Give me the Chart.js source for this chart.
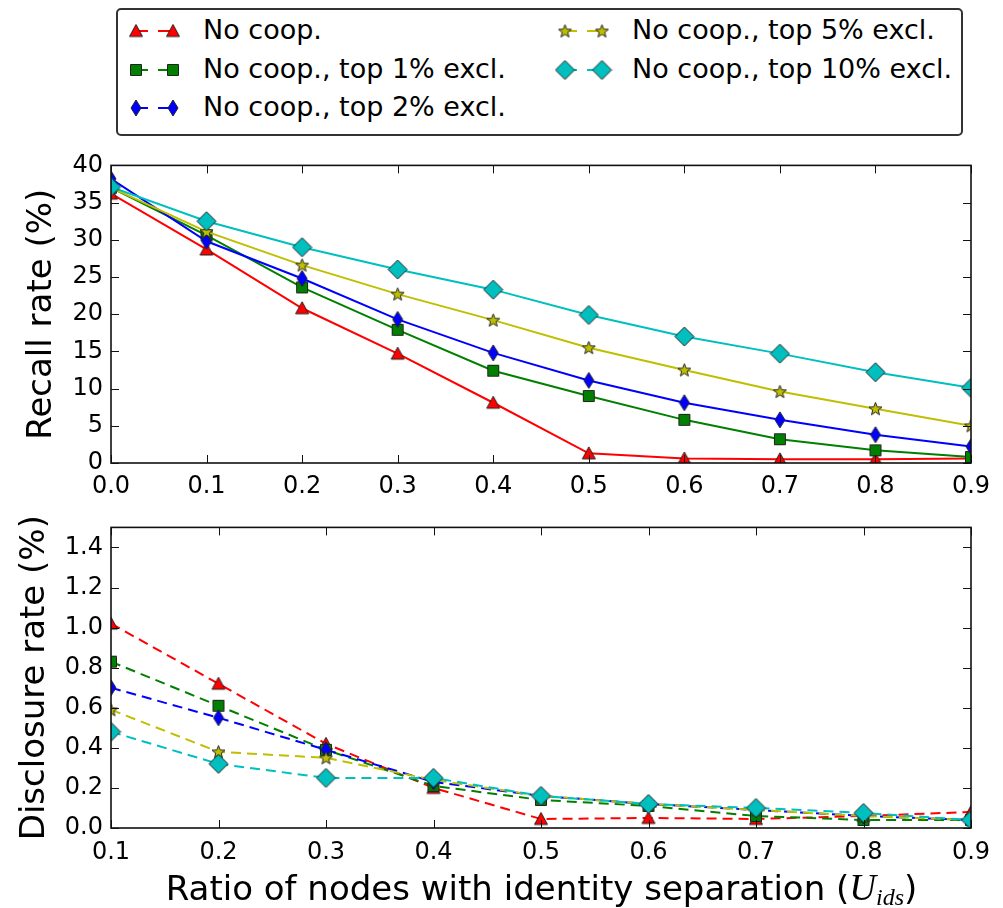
<!DOCTYPE html>
<html>
<head>
<meta charset="utf-8">
<script src="https://cdn.jsdelivr.net/npm/chart.js@4.4.1/dist/chart.umd.min.js"></script>
<style>
    body { margin: 0; background: #fff; font-family: 'DejaVu Sans', sans-serif; color: #000; }
    #wrap { position: relative; width: 1003px; height: 908px; overflow: hidden; }
    #legend { position: absolute; left: 116px; top: 8px; width: 843px; height: 124px;
              border: 2px solid #333; border-radius: 5px; }
    #legend canvas, #legend span { position: absolute; }
    #legend span { font-size: 27px; line-height: 30px; white-space: nowrap; }
    #recall { position: absolute; left: 0; top: 143px; }
    #disclosure { position: absolute; left: 0; top: 505px; }
    #xtitle { position: absolute; left: 0; width: 1083px; top: 871px; text-align: center;
              font-size: 34px; line-height: 34px; white-space: nowrap; }
    #xtitle i { font-family: 'Liberation Serif', serif; font-size: 37px; }
    #xtitle sub { font-size: 24px; vertical-align: baseline; position: relative; top: 5px; }
</style>
</head>
<body>
<div id="wrap">
    <canvas id="recall" width="1003" height="367"></canvas>
    <canvas id="disclosure" width="1003" height="370"></canvas>
    <div id="legend"></div>
    <div id="xtitle">Ratio of nodes with identity separation (<i>U<sub>ids</sub></i>)</div>
</div>
<script>
const seriesNames = ['No coop.', 'No coop., top 1% excl.', 'No coop., top 2% excl.',
                     'No coop., top 5% excl.', 'No coop., top 10% excl.'];
const seriesColors = ['#ff0000', '#008000', '#0000ff', '#bfbf00', '#00bfbf'];
const seriesMarkers = ['triangle', 'square', 'thinDiamond', 'star', 'diamond'];

// top panel: recall rate (%)
const recallX = [0.0, 0.1, 0.2, 0.3, 0.4, 0.5, 0.6, 0.7, 0.8, 0.9];
const recallNoCoop = [36.2, 28.7, 20.8, 14.7, 8.1, 1.3, 0.6, 0.5, 0.5, 0.6];
const recallTop1 = [37.0, 30.6, 23.6, 17.9, 12.4, 9.0, 5.8, 3.2, 1.7, 0.8];
const recallTop2 = [38.2, 29.8, 24.8, 19.3, 14.8, 11.1, 8.1, 5.8, 3.8, 2.2];
const recallTop5 = [37.0, 31.1, 26.6, 22.7, 19.2, 15.5, 12.5, 9.6, 7.3, 5.0];
const recallTop10 = [37.1, 32.5, 29.0, 26.0, 23.3, 19.9, 17.0, 14.7, 12.2, 10.1];
const recallXTicks = [0.0, 0.1, 0.2, 0.3, 0.4, 0.5, 0.6, 0.7, 0.8, 0.9];
const recallYTicks = [0, 5, 10, 15, 20, 25, 30, 35, 40];

// bottom panel: disclosure rate (%)
const disclosureX = [0.1, 0.2, 0.3, 0.4, 0.5, 0.6, 0.7, 0.8, 0.9];
const disclosureNoCoop = [1.02, 0.72, 0.42, 0.20, 0.045, 0.05, 0.045, 0.06, 0.08];
const disclosureTop1 = [0.83, 0.61, 0.39, 0.21, 0.14, 0.11, 0.06, 0.04, 0.04];
const disclosureTop2 = [0.70, 0.55, 0.39, 0.23, 0.16, 0.12, 0.09, 0.06, 0.04];
const disclosureTop5 = [0.59, 0.38, 0.35, 0.24, 0.16, 0.12, 0.09, 0.06, 0.04];
const disclosureTop10 = [0.48, 0.32, 0.25, 0.25, 0.16, 0.12, 0.10, 0.075, 0.04];
const disclosureXTicks = [0.1, 0.2, 0.3, 0.4, 0.5, 0.6, 0.7, 0.8, 0.9];
const disclosureYTicks = [0.0, 0.2, 0.4, 0.6, 0.8, 1.0, 1.2, 1.4];

const FONT = "'DejaVu Sans', sans-serif";

// marker images, matplotlib look (filled, dark edge)
function makeMarker(shape, fill) {
    const sizes = { triangle: [16, 15], square: [14, 14], thinDiamond: [12, 18], star: [15, 15], diamond: [21, 21] };
    const [w, h] = sizes[shape];
    const c = document.createElement('canvas');
    c.width = w;
    c.height = h;
    const g = c.getContext('2d');
    g.fillStyle = fill;
    g.strokeStyle = '#222';
    g.lineWidth = 1;
    g.beginPath();
    if (shape === 'triangle') {
        g.moveTo(w / 2, 1); g.lineTo(w - 1.5, h - 2); g.lineTo(1.5, h - 2);
    } else if (shape === 'square') {
        g.rect(1.5, 1.5, w - 3, h - 3);
    } else if (shape === 'star') {
        for (let i = 0; i < 10; i++) {
            const r = i % 2 ? 2.9 : 6.8;
            const a = -Math.PI / 2 + i * Math.PI / 5;
            g.lineTo(w / 2 + r * Math.cos(a), h / 2 + 0.5 + r * Math.sin(a));
        }
    } else {
        g.moveTo(w / 2, 1); g.lineTo(w - 1, h / 2); g.lineTo(w / 2, h - 1); g.lineTo(1, h / 2);
    }
    g.closePath();
    g.fill();
    g.stroke();
    return c;
}

const markerImages = seriesMarkers.map((m, i) => makeMarker(m, seriesColors[i]));

// frame + inward ticks on all four sides
const frameTicks = {
    id: 'frameTicks',
    afterDraw(chart) {
        const { ctx, chartArea: a, scales: { x, y } } = chart;
        ctx.save();
        ctx.strokeStyle = '#111';
        ctx.lineWidth = 1;
        ctx.beginPath();
        x.ticks.forEach(t => {
            const px = Math.round(x.getPixelForValue(t.value)) + 0.5;
            ctx.moveTo(px, a.bottom); ctx.lineTo(px, a.bottom - 8);
            ctx.moveTo(px, a.top); ctx.lineTo(px, a.top + 8);
        });
        y.ticks.forEach(t => {
            const py = Math.round(y.getPixelForValue(t.value)) + 0.5;
            ctx.moveTo(a.left, py); ctx.lineTo(a.left + 8, py);
            ctx.moveTo(a.right, py); ctx.lineTo(a.right - 8, py);
        });
        ctx.stroke();
        ctx.lineWidth = 1.6;
        ctx.strokeRect(a.left, a.top, a.right - a.left, a.bottom - a.top);
        ctx.restore();
    }
};

function buildDatasets(xs, seriesList, dash) {
    return seriesList.map((vals, i) => ({
        label: seriesNames[i],
        data: xs.map((x, j) => ({ x: x, y: vals[j] })),
        borderColor: seriesColors[i],
        borderWidth: 2,
        borderDash: dash,
        pointStyle: markerImages[i],
        pointRadius: 8,
        tension: 0,
        clip: 0,
        order: seriesList.length - i
    }));
}

function buildOptions(cfg) {
    return {
        responsive: false,
        animation: false,
        layout: { padding: { top: 20, right: 32, left: 0, bottom: 0 } },
        plugins: { legend: { display: false }, tooltip: { enabled: false } },
        scales: {
            x: {
                type: 'linear',
                min: cfg.xTicks[0],
                max: cfg.xTicks[cfg.xTicks.length - 1],
                grid: { display: false, drawTicks: false },
                border: { display: false },
                afterBuildTicks: s => { s.ticks = cfg.xTicks.map(v => ({ value: v })); },
                afterFit: s => { s.height = 47; },
                ticks: {
                    padding: cfg.xPad,
                    color: '#000',
                    maxRotation: 0,
                    font: { family: FONT, size: 24 },
                    callback: v => v.toFixed(1)
                }
            },
            y: {
                min: 0,
                max: cfg.yMax,
                grid: { display: false, drawTicks: false },
                border: { display: false },
                afterBuildTicks: s => { s.ticks = cfg.yTicks.map(v => ({ value: v })); },
                afterFit: s => { s.width = 111; },
                ticks: {
                    padding: 8,
                    color: '#000',
                    font: { family: FONT, size: 24 },
                    callback: cfg.yFormat
                },
                title: {
                    display: true,
                    text: cfg.yTitle,
                    color: '#000',
                    padding: { top: cfg.titlePad, bottom: 0 },
                    font: { family: FONT, size: 34 }
                }
            }
        }
    };
}

new Chart(document.getElementById('recall'), {
    type: 'line',
    data: {
        datasets: buildDatasets(recallX,
            [recallNoCoop, recallTop1, recallTop2, recallTop5, recallTop10], [])
    },
    options: buildOptions({
        xTicks: recallXTicks, yTicks: recallYTicks, yMax: 40, xPad: 9,
        yTitle: 'Recall rate (%)', titlePad: 22, yFormat: v => String(v)
    }),
    plugins: [frameTicks]
});

new Chart(document.getElementById('disclosure'), {
    type: 'line',
    data: {
        datasets: buildDatasets(disclosureX,
            [disclosureNoCoop, disclosureTop1, disclosureTop2, disclosureTop5, disclosureTop10], [10, 6])
    },
    options: buildOptions({
        xTicks: disclosureXTicks, yTicks: disclosureYTicks, yMax: 1.5, xPad: 10,
        yTitle: 'Disclosure rate (%)', titlePad: 15, yFormat: v => v.toFixed(1)
    }),
    plugins: [frameTicks]
});

// legend: two columns, filled column by column
const legend = document.getElementById('legend');
const legendCols = [136, 565];
const legendRows = [31, 69.5, 108];
seriesNames.forEach((name, i) => {
    const col = i < 3 ? 0 : 1;
    const row = i < 3 ? i : i - 3;
    const mx = legendCols[col] - 118;
    const my = legendRows[row] - 10;

    const icon = document.createElement('canvas');
    icon.width = 64;
    icon.height = 30;
    icon.style.left = (mx - 14) + 'px';
    icon.style.top = (my - 15) + 'px';
    const g = icon.getContext('2d');
    g.strokeStyle = seriesColors[i];
    g.lineWidth = 2;
    g.setLineDash([12, 10]);
    g.beginPath();
    g.moveTo(14, 15);
    g.lineTo(51, 15);
    g.stroke();
    const img = markerImages[i];
    g.drawImage(img, 14 - img.width / 2, 15 - img.height / 2);
    g.drawImage(img, 51 - img.width / 2, 15 - img.height / 2);
    legend.appendChild(icon);

    const label = document.createElement('span');
    label.textContent = name;
    label.style.left = (mx + 67) + 'px';
    label.style.top = (my - 16) + 'px';
    legend.appendChild(label);
});
</script>
</body>
</html>
